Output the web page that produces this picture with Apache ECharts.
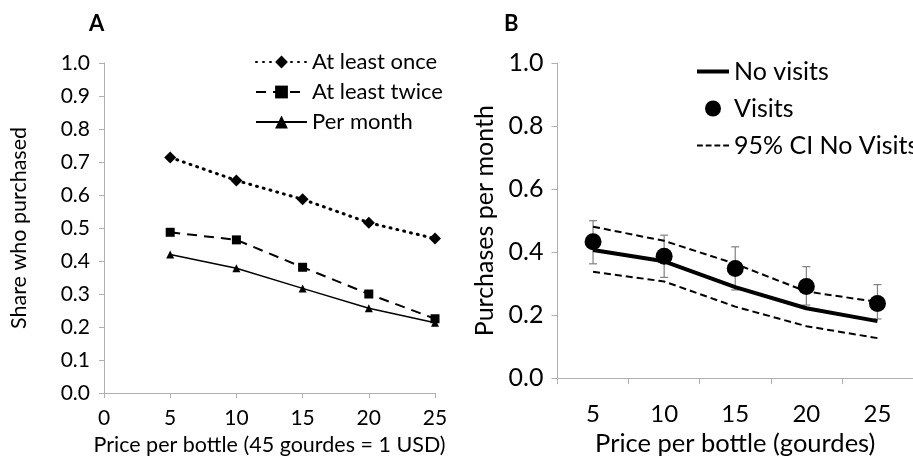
<!DOCTYPE html>
<html>
<head>
<meta charset="utf-8">
<script src="https://cdn.jsdelivr.net/npm/echarts@6/dist/echarts.min.js"></script>
<style>html,body{margin:0;padding:0;background:#fff}#c{width:913px;height:462px}</style>
</head>
<body>
<div id="c"></div>
<script>
// Panel A data
const pricesA = [5, 10, 15, 20, 25];
const atLeastOnce = [0.714, 0.644, 0.587, 0.516, 0.468];
const atLeastTwice = [0.487, 0.464, 0.381, 0.300, 0.225];
const perMonth = [0.420, 0.378, 0.317, 0.257, 0.213];
const ticksA = [0, 5, 10, 15, 20, 25];

// Panel B data
const pricesB = ['5', '10', '15', '20', '25'];
const noVisits = [0.407, 0.371, 0.289, 0.222, 0.181];
const visits = [0.433, 0.387, 0.348, 0.291, 0.237];
const visitsLow = [0.363, 0.320, 0.280, 0.232, 0.188];
const visitsHigh = [0.500, 0.454, 0.417, 0.354, 0.297];
const ciUpper = [0.481, 0.436, 0.363, 0.275, 0.242];
const ciLower = [0.338, 0.307, 0.227, 0.165, 0.127];

const FONT = 'Lato';
const axisGray = '#b0b0b0';

const chart = echarts.init(document.getElementById('c'));
chart.setOption({
  animation: false,
  textStyle: { fontFamily: FONT, color: '#000' },
  title: [
    { text: 'A', left: 89, top: 13, padding: 0, textStyle: { fontFamily: FONT, fontSize: 22, fontWeight: 'bold', color: '#000' } },
    { text: 'B', left: 504, top: 13, padding: 0, textStyle: { fontFamily: FONT, fontSize: 22, fontWeight: 'bold', color: '#000' } }
  ],
  legend: [
    {
      orient: 'vertical', left: 255, top: 51, padding: 0,
      itemWidth: 51, itemHeight: 16, itemGap: 8,
      textStyle: { fontFamily: FONT, fontSize: 22, lineHeight: 22, color: '#000' },
      data: ['At least once', 'At least twice', 'Per month']
    },
    {
      orient: 'vertical', left: 697, top: 59, padding: 0,
      itemWidth: 32, itemHeight: 16, itemGap: 12,
      textStyle: { fontFamily: FONT, fontSize: 25, lineHeight: 25, color: '#000' },
      data: [
        { name: 'No visits', icon: 'path://M0,0H32V4H0Z' },
        { name: 'Visits', icon: 'circle' },
        { name: '95% CI No Visits', icon: 'path://M0,0H6V2H0Z M9,0H15V2H9Z M18,0H24V2H18Z M27,0H33V2H27Z' }
      ]
    }
  ],
  grid: [
    { left: 104, right: 478, top: 63, bottom: 69 },
    { left: 557.5, right: -8.7, top: 63.3, bottom: 76 }
  ],
  xAxis: [
    {
      gridIndex: 0, type: 'value', min: ticksA[0], max: ticksA[ticksA.length - 1], interval: 5,
      axisLine: { lineStyle: { color: axisGray, width: 1 } },
      axisTick: { show: true, length: 5, lineStyle: { color: axisGray } },
      splitLine: { show: false },
      axisLabel: { fontFamily: FONT, fontSize: 21, color: '#000', margin: 15 },
      name: 'Price per bottle (45 gourdes = 1 USD)', nameLocation: 'middle', nameGap: 37,
      nameTextStyle: { fontFamily: FONT, fontSize: 21.5, color: '#000' }
    },
    {
      gridIndex: 1, type: 'category', data: pricesB, boundaryGap: true,
      axisLine: { lineStyle: { color: axisGray, width: 1 } },
      axisTick: { show: true, length: 6, alignWithLabel: false, lineStyle: { color: axisGray } },
      splitLine: { show: false },
      axisLabel: { fontFamily: FONT, fontSize: 24, color: '#000', margin: 24 },
      name: 'Price per bottle (gourdes)', nameLocation: 'middle', nameGap: 50,
      nameTextStyle: { fontFamily: FONT, fontSize: 25.5, color: '#000' }
    }
  ],
  yAxis: [
    {
      gridIndex: 0, type: 'value', min: 0, max: 1, interval: 0.1,
      axisLine: { show: true, lineStyle: { color: axisGray, width: 1 } },
      axisTick: { show: true, length: 5, lineStyle: { color: axisGray } },
      splitLine: { show: false },
      axisLabel: { fontFamily: FONT, fontSize: 21, color: '#000', margin: 14, formatter: v => v.toFixed(1) },
      name: 'Share who purchased', nameLocation: 'middle', nameGap: 74,
      nameTextStyle: { fontFamily: FONT, fontSize: 21.5, color: '#000' }
    },
    {
      gridIndex: 1, type: 'value', min: 0, max: 1, interval: 0.2,
      axisLine: { show: true, lineStyle: { color: axisGray, width: 1 } },
      axisTick: { show: true, length: 6, lineStyle: { color: axisGray } },
      splitLine: { show: false },
      axisLabel: { fontFamily: FONT, fontSize: 25, color: '#000', margin: 14, formatter: v => v.toFixed(1) },
      name: 'Purchases per month', nameLocation: 'middle', nameGap: 60,
      nameTextStyle: { fontFamily: FONT, fontSize: 25, color: '#000' }
    }
  ],
  series: [
    {
      name: 'At least once', type: 'line', xAxisIndex: 0, yAxisIndex: 0,
      data: pricesA.map((p, i) => [p, atLeastOnce[i]]),
      symbol: 'diamond', symbolSize: 12,
      lineStyle: { color: '#000', width: 3, type: [1, 6], cap: 'round' },
      itemStyle: { color: '#000' }
    },
    {
      name: 'At least twice', type: 'line', xAxisIndex: 0, yAxisIndex: 0,
      data: pricesA.map((p, i) => [p, atLeastTwice[i]]),
      symbol: 'rect', symbolSize: 9,
      lineStyle: { color: '#000', width: 2, type: [10, 7] },
      itemStyle: { color: '#000' }
    },
    {
      name: 'Per month', type: 'line', xAxisIndex: 0, yAxisIndex: 0,
      data: pricesA.map((p, i) => [p, perMonth[i]]),
      symbol: 'triangle', symbolSize: 8,
      lineStyle: { color: '#000', width: 1.5 },
      itemStyle: { color: '#000' }
    },
    {
      name: '95% CI No Visits', type: 'line', xAxisIndex: 1, yAxisIndex: 1,
      data: ciUpper, symbol: 'none',
      lineStyle: { color: '#000', width: 2, type: [7, 4] },
      itemStyle: { color: '#000' }
    },
    {
      name: '95% CI No Visits', type: 'line', xAxisIndex: 1, yAxisIndex: 1,
      data: ciLower, symbol: 'none',
      lineStyle: { color: '#000', width: 2, type: [7, 4] },
      itemStyle: { color: '#000' }
    },
    {
      name: 'No visits', type: 'line', xAxisIndex: 1, yAxisIndex: 1,
      data: noVisits, symbol: 'none',
      lineStyle: { color: '#000', width: 4 },
      itemStyle: { color: '#000' }
    },
    {
      name: 'errbars', type: 'custom', xAxisIndex: 1, yAxisIndex: 1,
      data: pricesB.map((c, i) => [i, visitsLow[i], visitsHigh[i]]),
      renderItem: (params, api) => {
        const lo = api.coord([api.value(0), api.value(1)]);
        const hi = api.coord([api.value(0), api.value(2)]);
        const w = 4;
        const st = { stroke: '#808080', lineWidth: 1.2 };
        return {
          type: 'group', children: [
            { type: 'line', shape: { x1: hi[0], y1: hi[1], x2: lo[0], y2: lo[1] }, style: st },
            { type: 'line', shape: { x1: hi[0] - w, y1: hi[1], x2: hi[0] + w, y2: hi[1] }, style: st },
            { type: 'line', shape: { x1: lo[0] - w, y1: lo[1], x2: lo[0] + w, y2: lo[1] }, style: st }
          ]
        };
      },
      z: 3
    },
    {
      name: 'Visits', type: 'scatter', xAxisIndex: 1, yAxisIndex: 1,
      data: visits, symbol: 'circle', symbolSize: 17,
      itemStyle: { color: '#000', opacity: 1 }, z: 4
    }
  ]
});
</script>
</body>
</html>
